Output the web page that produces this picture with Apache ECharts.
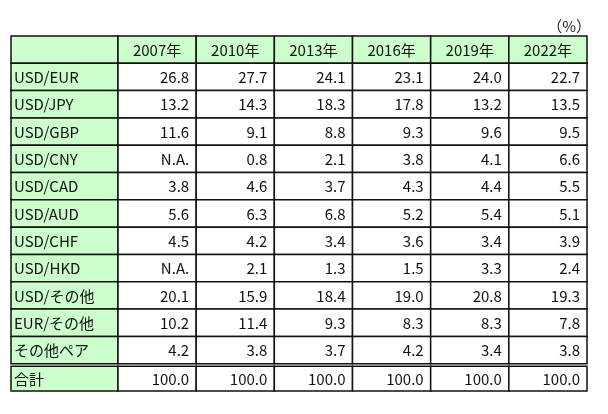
<!DOCTYPE html>
<html><head><meta charset="utf-8">
<script src="https://cdn.jsdelivr.net/npm/echarts@6/dist/echarts.min.js"></script>
<style>html,body{margin:0;padding:0;background:#fff}#c{width:608px;height:414px}</style>
</head><body><div id="c"></div>
<script>
const unitLabel = '（%）';
const years = ['2007年','2010年','2013年','2016年','2019年','2022年'];
const pairs = ['USD/EUR','USD/JPY','USD/GBP','USD/CNY','USD/CAD','USD/AUD','USD/CHF','USD/HKD','USD/その他','EUR/その他','その他ペア','合計'];
const y2007 = [26.8,13.2,11.6,null,3.8,5.6,4.5,null,20.1,10.2,4.2,100.0];
const y2010 = [27.7,14.3,9.1,0.8,4.6,6.3,4.2,2.1,15.9,11.4,3.8,100.0];
const y2013 = [24.1,18.3,8.8,2.1,3.7,6.8,3.4,1.3,18.4,9.3,3.7,100.0];
const y2016 = [23.1,17.8,9.3,3.8,4.3,5.2,3.6,1.5,19.0,8.3,4.2,100.0];
const y2019 = [24.0,13.2,9.6,4.1,4.4,5.4,3.4,3.3,20.8,8.3,3.4,100.0];
const y2022 = [22.7,13.5,9.5,6.6,5.5,5.1,3.9,2.4,19.3,7.8,3.8,100.0];
const naText = 'N.A.';

const columns = [y2007, y2010, y2013, y2016, y2019, y2022];
const rowCats = [''].concat(pairs);
const lastRow = rowCats.length - 1;
const FONT = '15px "Noto Sans CJK JP", "Noto Sans", sans-serif';
const GREEN = '#ccffcc';
const LW = 1.5;

function cell(params, api, opts) {
  const c = api.coord([api.value(0), api.value(1)]);
  const s = api.size([1, 1]);
  let x = c[0] - s[0] / 2, y = c[1] - s[1] / 2, w = s[0], h = s[1];
  const row = api.value(1);
  const children = [];
  if (row === lastRow) { y += 2.5; h -= 2.5; }
  children.push({type:'rect', shape:{x:x, y:y, width:w, height:h},
    style:{fill: opts.fill, stroke:'#111', lineWidth: LW}});
  let tx, align;
  if (opts.align === 'left') { tx = x + 3; align = 'left'; }
  else if (opts.align === 'center') { tx = x + w / 2; align = 'center'; }
  else { tx = x + w - 7; align = 'right'; }
  children.push({type:'text', style:{text: opts.text, x: tx, y: y + h / 2 + 0.5,
    align: align, verticalAlign:'middle', font: FONT, fill:'#111'}});
  return {type:'group', children: children};
}

const labelData = rowCats.map((r, i) => [0, i, r]);
const valueData = [];
years.forEach((yr, j) => {
  valueData.push([j, 0, yr]);
  columns[j].forEach((v, i) => valueData.push([j, i + 1, v === null ? naText : v.toFixed(1)]));
});

const chart = echarts.init(document.getElementById('c'), null, {renderer:'canvas'});
chart.setOption({
  animation: false,
  backgroundColor: '#fff',
  title: {text: unitLabel, right: 12, top: 14,
    textStyle: {fontSize: 15, fontWeight: 'normal', color: '#222', fontFamily: '"Noto Sans CJK JP"'}},
  grid: [
    {left: 11, top: 36, width: 107, height: 355},
    {left: 118, top: 36, width: 469, height: 355}
  ],
  xAxis: [
    {type:'category', gridIndex:0, data:['label'], show:false},
    {type:'category', gridIndex:1, data: years, show:false}
  ],
  yAxis: [
    {type:'category', gridIndex:0, data: rowCats, inverse:true, show:false},
    {type:'category', gridIndex:1, data: rowCats, inverse:true, show:false}
  ],
  series: [
    {type:'custom', xAxisIndex:0, yAxisIndex:0, data: labelData,
      renderItem: (p, api) => cell(p, api, {fill: GREEN, align:'left', text: labelData[p.dataIndex][2]})},
    {type:'custom', xAxisIndex:1, yAxisIndex:1, data: valueData,
      renderItem: (p, api) => {
        const d = valueData[p.dataIndex];
        const header = d[1] === 0;
        return cell(p, api, {fill: header ? GREEN : '#fff', align: header ? 'center' : 'right', text: d[2]});
      }}
  ]
});
</script></body></html>
